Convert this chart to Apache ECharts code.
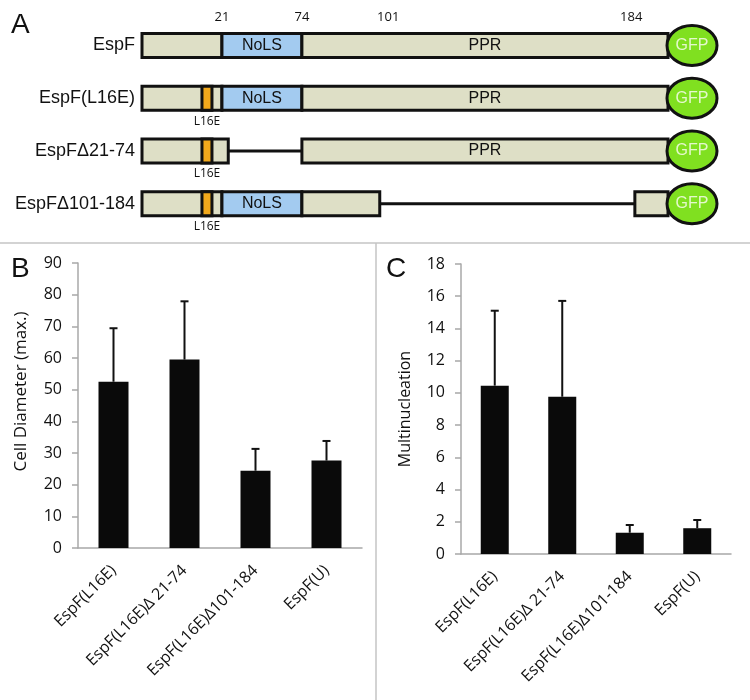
<!DOCTYPE html>
<html>
<head>
<meta charset="utf-8">
<script src="https://cdn.jsdelivr.net/npm/echarts@6/dist/echarts.min.js"></script>
<style>
  html, body { margin: 0; padding: 0; background: #fff; }
  #main { width: 750px; height: 700px; }
</style>
</head>
<body>
<div id="main"></div>
<script>
// ---- panel A : construct schematic (drawing scale 0-100, not to scale) ----
const constructs = ['EspF', 'EspF(L16E)', 'EspFΔ21-74', 'EspFΔ101-184'];
const siteNames = ['21', '74', '101', '184'];
const sitePos = [15.2, 30.4, 46.8, 93.0];
// [row, start, end, kind, text]
const segments = [
  [0, 0, 15.2, 'box', ''], [0, 15.2, 30.4, 'nols', 'NoLS'], [0, 30.4, 100, 'box', 'PPR'],
  [1, 0, 15.2, 'box', ''], [1, 15.2, 30.4, 'nols', 'NoLS'], [1, 30.4, 100, 'box', 'PPR'],
  [2, 0, 16.4, 'box', ''], [2, 16.4, 30.4, 'gap', ''], [2, 30.4, 100, 'box', 'PPR'],
  [3, 0, 15.2, 'box', ''], [3, 15.2, 30.4, 'nols', 'NoLS'], [3, 30.4, 45.2, 'box', ''],
  [3, 45.2, 93.7, 'gap', ''], [3, 93.7, 100, 'box', ''],
  [1, 11.4, 13.3, 'mut', 'L16E'], [2, 11.4, 13.3, 'mut', 'L16E'], [3, 11.4, 13.3, 'mut', 'L16E'],
  [0, 100, 100, 'gfp', 'GFP'], [1, 100, 100, 'gfp', 'GFP'], [2, 100, 100, 'gfp', 'GFP'], [3, 100, 100, 'gfp', 'GFP']
];

// ---- panels B and C ----
const samples = ['EspF(L16E)', 'EspF(L16E)Δ 21-74', 'EspF(L16E)Δ101-184', 'EspF(U)'];
const diameter = [52.5, 59.5, 24.4, 27.6];
const diameterErr = [16.9, 18.4, 6.9, 6.2];
const multi = [10.45, 9.76, 1.32, 1.6];
const multiErr = [4.65, 5.95, 0.48, 0.51];

const chart = echarts.init(document.getElementById('main'));

const tickFont = '"Open Sans"';
const boxFill = '#dedfc6';

function renderSegment(params, api) {
  const seg = segments[params.dataIndex];
  const kind = seg[3];
  const p0 = api.coord([api.value(0), api.value(1)]);
  const p1 = api.coord([api.value(2), api.value(1)]);
  const h = 24;
  if (kind === 'gap') {
    return { type: 'line', shape: { x1: p0[0], y1: p0[1], x2: p1[0], y2: p1[1] },
      style: { stroke: '#111', lineWidth: 3 } };
  }
  if (kind === 'gfp') {
    return { type: 'group', children: [
      { type: 'ellipse', shape: { cx: p0[0] + 24, cy: p0[1], rx: 25, ry: 20 },
        style: { fill: '#80e020', stroke: '#111', lineWidth: 3 } },
      { type: 'text', style: { text: seg[4], x: p0[0] + 24, y: p0[1], align: 'center', verticalAlign: 'middle',
        fill: '#e4f8cc', font: '16px "Liberation Sans"' } }
    ] };
  }
  if (kind === 'mut') {
    return { type: 'group', children: [
      { type: 'rect', shape: { x: p0[0], y: p0[1] - h / 2, width: p1[0] - p0[0], height: h },
        style: { fill: '#f2a91c', stroke: '#111', lineWidth: 3 } },
      { type: 'text', style: { text: seg[4], x: (p0[0] + p1[0]) / 2, y: p0[1] + 23, align: 'center', verticalAlign: 'middle',
        fill: '#111', font: '12px "Open Sans"' } }
    ] };
  }
  return { type: 'rect', shape: { x: p0[0], y: p0[1] - h / 2, width: p1[0] - p0[0], height: h },
    style: { fill: kind === 'nols' ? '#a3cbf0' : boxFill, stroke: '#111', lineWidth: 3 },
    textContent: { style: { text: seg[4], fill: '#111', font: '16px "Liberation Sans"' } },
    textConfig: { position: 'inside' } };
}

function renderSite(params, api) {
  const p = api.coord([api.value(0), 0]);
  return { type: 'text', style: { text: siteNames[params.dataIndex], x: p[0], y: p[1] - 28,
    align: 'center', verticalAlign: 'middle', fill: '#111', font: '13px "Open Sans"' } };
}

function renderErr(params, api) {
  const i = api.value(0);
  const top = api.coord([i, api.value(1) + api.value(2)]);
  const base = api.coord([i, api.value(1)]);
  return { type: 'group', children: [
    { type: 'line', shape: { x1: base[0], y1: base[1], x2: top[0], y2: top[1] }, style: { stroke: '#111', lineWidth: 2 } },
    { type: 'line', shape: { x1: top[0] - 4, y1: top[1], x2: top[0] + 4, y2: top[1] }, style: { stroke: '#111', lineWidth: 2 } }
  ] };
}

function barXAxis(gridIndex) {
  return {
    type: 'category', gridIndex: gridIndex, data: samples,
    axisLine: { lineStyle: { color: '#a8a8a8', width: 1.5 } },
    axisTick: { length: 6, lineStyle: { color: '#a8a8a8', width: 1.5 } },
    axisLabel: { rotate: 45, interval: 0, margin: 20, color: '#111', fontSize: 16, fontFamily: tickFont }
  };
}

function barYAxis(gridIndex, max, interval, name, nameSize, namePad) {
  return {
    type: 'value', gridIndex: gridIndex, min: 0, max: max, interval: interval,
    name: name, nameLocation: 'middle', nameGap: 48, nameRotate: 90,
    nameTextStyle: { color: '#111', fontSize: nameSize, fontFamily: tickFont, padding: [0, 0, 0, namePad] },
    axisLine: { show: true, lineStyle: { color: '#a8a8a8', width: 1.5 } },
    axisTick: { show: true, length: 6, lineStyle: { color: '#a8a8a8', width: 1.5 } },
    splitLine: { show: false },
    axisLabel: { margin: 16, color: '#111', fontSize: 16, fontFamily: tickFont }
  };
}

const option = {
  animation: false,
  backgroundColor: '#fff',
  grid: [
    { left: 78, right: 388, top: 263, bottom: 152 },
    { left: 461, right: 19, top: 264, bottom: 146 },
    { left: 142, right: 82, top: 19, bottom: 470 }
  ],
  xAxis: [
    barXAxis(0),
    barXAxis(1),
    { type: 'value', gridIndex: 2, min: 0, max: 100, show: false }
  ],
  yAxis: [
    barYAxis(0, 90, 10, 'Cell Diameter (max.)', 17, 28),
    barYAxis(1, 18, 2, 'Multinucleation', 16, 0),
    { type: 'category', gridIndex: 2, data: constructs, inverse: true,
      axisLine: { show: false }, axisTick: { show: false }, splitLine: { show: false },
      axisLabel: { margin: 7, color: '#111', fontSize: 18, fontFamily: 'Liberation Sans' } }
  ],
  graphic: [
    { type: 'line', shape: { x1: 0, y1: 243, x2: 750, y2: 243 }, style: { stroke: '#c4c4c4', lineWidth: 1.5 } },
    { type: 'line', shape: { x1: 376, y1: 243, x2: 376, y2: 700 }, style: { stroke: '#c4c4c4', lineWidth: 1.5 } },
    { type: 'text', left: 11, top: 11, style: { text: 'A', font: '28px "Liberation Sans"', fill: '#111' } },
    { type: 'text', left: 11, top: 255, style: { text: 'B', font: '28px "Liberation Sans"', fill: '#111' } },
    { type: 'text', left: 386, top: 255, style: { text: 'C', font: '28px "Liberation Sans"', fill: '#111' } }
  ],
  series: [
    { type: 'bar', xAxisIndex: 0, yAxisIndex: 0, data: diameter, barWidth: 30, itemStyle: { color: '#0a0a0a' } },
    { type: 'custom', xAxisIndex: 0, yAxisIndex: 0, renderItem: renderErr,
      data: diameter.map((v, i) => [i, v, diameterErr[i]]), z: 3 },
    { type: 'bar', xAxisIndex: 1, yAxisIndex: 1, data: multi, barWidth: 28, itemStyle: { color: '#0a0a0a' } },
    { type: 'custom', xAxisIndex: 1, yAxisIndex: 1, renderItem: renderErr,
      data: multi.map((v, i) => [i, v, multiErr[i]]), z: 3 },
    { type: 'custom', xAxisIndex: 2, yAxisIndex: 2, renderItem: renderSegment,
      data: segments.map(s => [s[1], s[0], s[2]]) },
    { type: 'custom', xAxisIndex: 2, yAxisIndex: 2, renderItem: renderSite,
      data: sitePos.map(p => [p, 0]) }
  ]
};

chart.setOption(option);
</script>
</body>
</html>
